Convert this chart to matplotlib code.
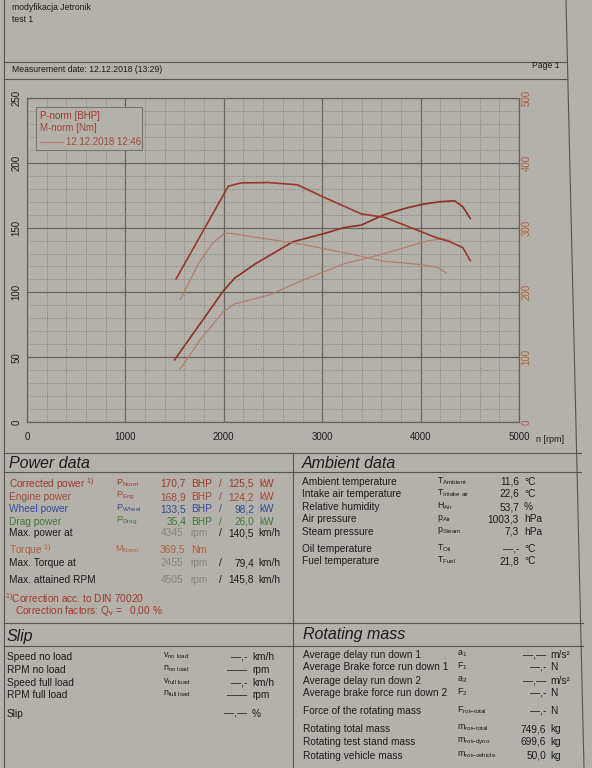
import numpy as np
import matplotlib.pyplot as plt
from matplotlib.lines import Line2D
from matplotlib.patches import Rectangle

W, H = 592, 768

# curves (run 13:29)
rpm_p = [1500, 1994, 2110, 2320, 2700, 3000, 3220, 3400, 3630, 3850, 4020, 4200, 4345, 4430, 4505]
p_norm = [48, 101, 111, 122, 139, 145, 150, 152, 160, 165, 168, 170, 170.7, 166, 157]
rpm_m = [1516, 2046, 2180, 2455, 2750, 3000, 3400, 3630, 3900, 4150, 4300, 4430, 4505]
m_norm = [221, 364, 369, 369.5, 366, 348, 321, 316, 300, 285, 278, 269, 249]

# comparison run 12:46
rpm_p_old = [1558, 1765, 1994, 2108, 2461, 2804, 3219, 3634, 4081, 4237, 4300]
p_old = [41, 64, 85, 91, 98, 109.5, 122, 130, 140, 141.5, 140]
rpm_m_old = [1558, 1745, 1880, 2004, 2077, 2461, 2804, 3200, 3634, 4000, 4185, 4258]
m_old = [189, 245, 275, 291, 291, 282, 274, 262, 248, 243, 238, 230]

x_ticks = [0, 1000, 2000, 3000, 4000, 5000]
y_ticks = [0, 50, 100, 150, 200, 250]
y2_ticks = [0, 100, 200, 300, 400, 500]

paper = '#b3b1a9'
ink = '#1c1c1c'
grid_c = '#66655f'
red = '#a3382c'
brown = '#b0603e'
grey_txt = '#85847e'

plt.rcParams['font.family'] = ['Liberation Sans', 'DejaVu Sans']
plt.rcParams['mathtext.fontset'] = 'custom'
plt.rcParams['mathtext.rm'] = 'Liberation Sans'
plt.rcParams['mathtext.it'] = 'Liberation Sans'

fig = plt.figure(figsize=(W / 100, H / 100), dpi=100)
fig.patch.set_facecolor(paper)


def txt(x, y, s, size=7, color=ink, ha='left', **kw):
    fig.text(x / W, 1 - y / H, s, fontsize=size, color=color, ha=ha, va='center', **kw)


def line(x0, y0, x1, y1, color='#55544f', lw=0.8):
    fig.add_artist(Line2D([x0 / W, x1 / W], [1 - y0 / H, 1 - y1 / H], color=color, lw=lw))


# page frame
line(4, 0, 4, 768)
line(566, 0, 584, 768)
line(4, 62, 567, 62)
line(4, 79, 567, 79)
line(4, 453, 581, 453)
line(4, 472, 581, 472)
line(4, 623, 583, 623)
line(4, 646, 583, 646)
line(293, 453, 293, 768)

txt(12, 8, 'modyfikacja Jetronik', 6.2)
txt(12, 20, 'test 1', 6.2)
txt(12, 70, 'Measurement date: 12.12.2018 (13:29)', 6.2)
txt(560, 65, 'Page 1', 6.2, ha='right')

# chart
ax = fig.add_axes([27 / W, 1 - 422 / H, (519 - 27) / W, (422 - 98) / H])
ax.set_facecolor(paper)
ax.set_xlim(0, 5000)
ax.set_ylim(0, 250)
ax.set_xticks(x_ticks)
ax.set_yticks(y_ticks)
ax.set_xticks(np.arange(0, 5001, 200), minor=True)
ax.set_yticks(np.arange(0, 251, 10), minor=True)
ax.grid(which='major', color=grid_c, lw=0.9, ls='-')
ax.grid(which='minor', color='#75746e', lw=0.5, ls=(0, (1.5, 2)))
ax.tick_params(which='both', length=0)
ax.tick_params(axis='x', pad=7, labelsize=7, labelcolor=ink)
ax.tick_params(axis='y', pad=4, labelsize=7, labelcolor=ink, labelrotation=90)
for lab in ax.get_yticklabels():
    lab.set_va('center')
for sp in ax.spines.values():
    sp.set_color(grid_c)
    sp.set_lw(0.9)

ax2 = ax.twinx()
ax2.set_ylim(0, 500)
ax2.set_yticks(y2_ticks)
ax2.tick_params(length=0, pad=2, labelsize=7, labelcolor=brown, labelrotation=90)
for lab in ax2.get_yticklabels():
    lab.set_va('center')
for sp in ax2.spines.values():
    sp.set_visible(False)

ax.plot(rpm_p_old, p_old, color='#b67a68', lw=0.8)
ax2.plot(rpm_m_old, m_old, color='#b67a68', lw=0.8)
ax.plot(rpm_p, p_norm, color='#8e2f25', lw=1.2)
ax2.plot(rpm_m, m_norm, color='#993a2c', lw=1.2)

txt(550, 440, 'n [rpm]', 6.5, ha='center')

# legend box
fig.add_artist(Rectangle((36 / W, 1 - 150 / H), (142 - 36) / W, (150 - 107) / H,
                         transform=fig.transFigure, facecolor=paper, edgecolor='#77766f', lw=0.8))
txt(40, 116, 'P-norm [BHP]', 7, color=red)
txt(40, 128, 'M-norm [Nm]', 7, color='#9a4636')
line(40, 142, 63, 142, color='#b67a68', lw=0.9)
txt(66, 142, '12.12.2018 12:46', 7, color='#a04a3a')

# Power data
txt(9, 464, 'Power data', 11.5, style='italic')
pw_rows = [
    ('Corrected power $^{1)}$', r'P$_{\rm Norm}$', '170,7', 'BHP', '125,5', 'kW', red),
    ('Engine power', r'P$_{\rm Eng}$', '168,9', 'BHP', '124,2', 'kW', '#a8483a'),
    ('Wheel power', r'P$_{\rm Wheel}$', '133,5', 'BHP', '98,2', 'kW', '#2f4c9a'),
    ('Drag power', r'P$_{\rm Drag}$', '35,4', 'BHP', '26,0', 'kW', '#3f7a3c'),
]
pw_y = [484, 497, 509, 522]
for (lab, sym, v1, u1, v2, u2, c), y in zip(pw_rows, pw_y):
    txt(9, y, lab, 7.3, color=c)
    txt(116, y - 1, sym, 6.6, color=c)
    txt(186, y, v1, 7.3, color=c, ha='right')
    txt(191, y, u1, 7.3, color=c)
    txt(219, y, '/', 7.3, color=c)
    txt(254, y, v2, 7.3, color=c, ha='right')
    txt(259, y, u2, 7.3, color=c)

rpm_rows = [('Max. power at', '4345', '140,5', 533),
            ('Max. Torque at', '2455', '79,4', 563),
            ('Max. attained RPM', '4505', '145,8', 580)]
for lab, r, v, y in rpm_rows:
    txt(9, y, lab, 7.3)
    txt(183, y, r, 7.3, color=grey_txt, ha='right')
    txt(190, y, 'rpm', 7.3, color=grey_txt)
    txt(219, y, '/', 7.3)
    txt(254, y, v, 7.3, ha='right')
    txt(258, y, 'km/h', 7.3)

txt(9, 550, 'Torque $^{1)}$', 7.3, color=brown)
txt(115, 549, r'M$_{\rm Norm}$', 6.6, color=brown)
txt(185, 550, '369,5', 7.3, color=brown, ha='right')
txt(191, 550, 'Nm', 7.3, color=brown)
txt(5, 598, '$^{1)}$Correction acc. to DIN 70020', 7.3, color=red)
txt(15, 611, 'Correction factors: Q$_{\\rm v}$ =   0,00 %', 7.3, color=red)

# Ambient data
txt(302, 463, 'Ambient data', 11.5, style='italic')
amb_labels = ['Ambient temperature', 'Intake air temperature', 'Relative humidity',
              'Air pressure', 'Steam pressure', 'Oil temperature', 'Fuel temperature']
amb_syms = [r'T$_{\rm Ambient}$', r'T$_{\rm Intake\ air}$', r'H$_{\rm Air}$', r'p$_{\rm Air}$',
            r'p$_{\rm Steam}$', r'T$_{\rm Oil}$', r'T$_{\rm Fuel}$']
amb_vals = ['11,6', '22,6', '53,7', '1003,3', '7,3', '—,-', '21,8']
amb_units = ['°C', '°C', '%', 'hPa', 'hPa', '°C', '°C']
amb_y = [482, 494, 507, 519, 532, 549, 561]
for lab, s, v, u, y in zip(amb_labels, amb_syms, amb_vals, amb_units, amb_y):
    txt(302, y, lab, 7.3)
    txt(437, y - 1, s, 6.4)
    txt(519, y, v, 7.3, ha='right')
    txt(524, y, u, 7.3)

# Slip
txt(7, 637, 'Slip', 11.5, style='italic')
slip_labels = ['Speed no load', 'RPM no load', 'Speed full load', 'RPM full load', 'Slip']
slip_syms = [r'v$_{\rm no\ load}$', r'n$_{\rm no\ load}$', r'v$_{\rm full\ load}$',
             r'n$_{\rm full\ load}$', '']
slip_vals = ['—,-', '——', '—,-', '——', '—,—']
slip_units = ['km/h', 'rpm', 'km/h', 'rpm', '%']
slip_y = [657, 670, 683, 695, 714]
for lab, s, v, u, y in zip(slip_labels, slip_syms, slip_vals, slip_units, slip_y):
    txt(7, y, lab, 7.3)
    txt(163, y - 1, s, 6.4)
    txt(247, y, v, 7.3, ha='right')
    txt(252, y, u, 7.3)

# Rotating mass
txt(303, 635, 'Rotating mass', 11.5, style='italic')
rot_labels = ['Average delay run down 1', 'Average Brake force run down 1',
              'Average delay run down 2', 'Average brake force run down 2',
              'Force of the rotating mass', 'Rotating total mass',
              'Rotating test stand mass', 'Rotating vehicle mass']
rot_syms = [r'a$_{\rm 1}$', r'F$_{\rm 1}$', r'a$_{\rm 2}$', r'F$_{\rm 2}$', r'F$_{\rm rot\mathrm{-}total}$',
            r'm$_{\rm rot\mathrm{-}total}$', r'm$_{\rm rot\mathrm{-}dyno}$', r'm$_{\rm rot\mathrm{-}vehicle}$']
rot_vals = ['—,—', '—,-', '—,—', '—,-', '—,-', '749,6', '699,6', '50,0']
rot_units = ['m/s²', 'N', 'm/s²', 'N', 'N', 'kg', 'kg', 'kg']
rot_y = [655, 667, 681, 693, 711, 729, 742, 756]
for lab, s, v, u, y in zip(rot_labels, rot_syms, rot_vals, rot_units, rot_y):
    txt(303, y, lab, 7.3)
    txt(457, y - 1, s, 6.4)
    txt(546, y, v, 7.3, ha='right')
    txt(550, y, u, 7.3)

fig.savefig('out.png', dpi=100, facecolor=paper)
